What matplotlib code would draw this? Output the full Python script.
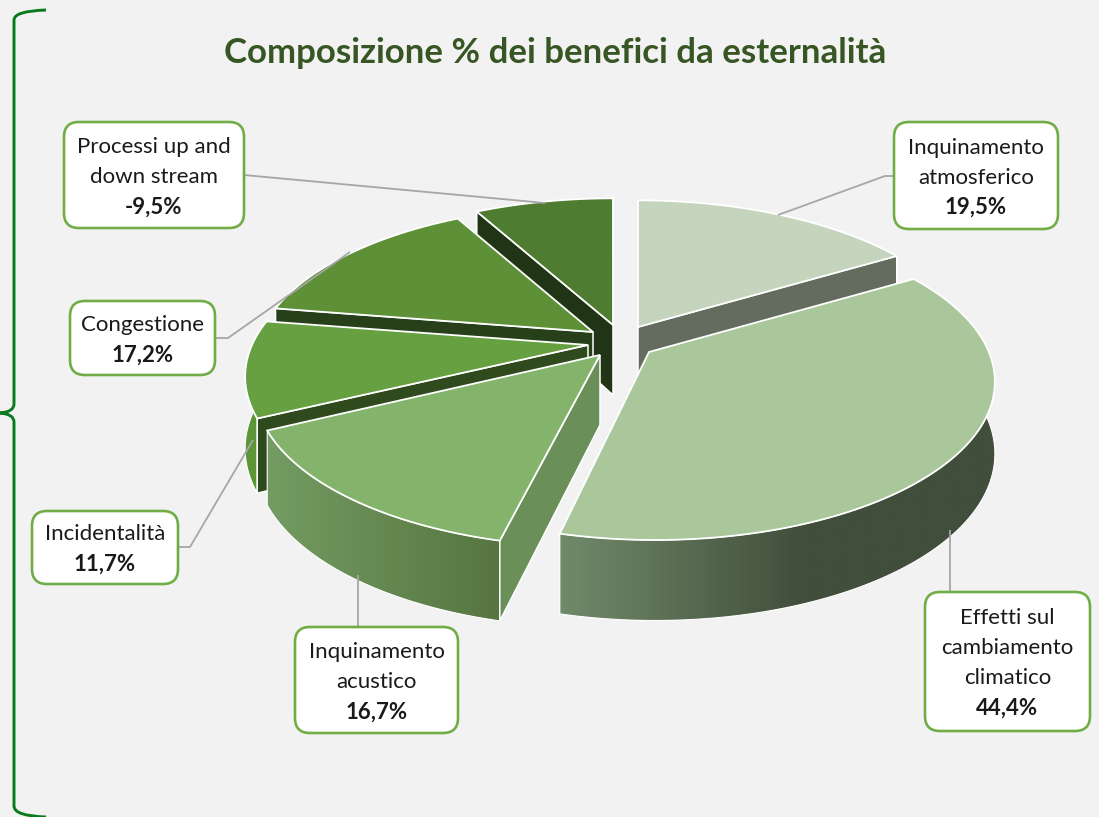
import numpy as np
import matplotlib
matplotlib.use("Agg")
import matplotlib.pyplot as plt
from matplotlib.colors import LinearSegmentedColormap
from matplotlib.patches import FancyBboxPatch, PathPatch, Polygon
from matplotlib.path import Path

plt.rcParams['font.family'] = ['Lato', 'DejaVu Sans']

title = "Composizione % dei benefici da esternalità"
labels = [
    ["Inquinamento", "atmosferico"],
    ["Effetti sul", "cambiamento", "climatico"],
    ["Inquinamento", "acustico"],
    ["Incidentalità"],
    ["Congestione"],
    ["Processi up and", "down stream"],
]
values = [19.5, 44.4, 16.7, 11.7, 17.2, -9.5]
value_labels = ["19,5%", "44,4%", "16,7%", "11,7%", "17,2%", "-9,5%"]

# look of the slices
top_colors = ["#c5d5bd", "#a9c79b", "#84b46b", "#66a040", "#5e9038", "#4e7c31"]
cut_colors = ["#636c5e", "#4a5644", "#6a8f58", "#2f4a1c", "#27401a", "#213416"]
side_left = ["#636c5e", "#708a69", "#739b62", "#5c9638", "#4e7c31", "#3f6527"]
side_right = ["#636c5e", "#424e3c", "#56743f", "#5c9638", "#4e7c31", "#3f6527"]
side_span = [(640, 900), (562, 800), (272, 505), (245, 270), (270, 600), (470, 615)]

# each slice is pulled out of the pie, this is where its tip ends up (pixels)
tips = [(638, 327), (649, 352), (600, 355), (588, 345), (593, 332), (613, 325)]
# the outer arc does not sit exactly around the tip in the picture
arc_centers = [(638, 327), (655, 350), (595, 357), (585, 345), (594, 332), (613, 325)]
draw_order = [5, 0, 4, 3, 2, 1]

# label boxes: left, top, right, bottom in pixels
boxes = [(894, 122, 1058, 229), (925, 592, 1090, 731), (295, 627, 458, 733),
         (32, 511, 178, 584), (70, 301, 215, 375), (64, 122, 244, 228)]
leaders = [
    [(778, 215), (885, 176), (894, 176)],
    [(950, 530), (950, 592)],
    [(358, 575), (358, 627)],
    [(178, 547), (190, 547), (253, 440)],
    [(215, 338), (228, 338), (350, 252)],
    [(244, 175), (545, 203)],
]

RX, RY, PERSP, HEIGHT = 333, 152, 0.2, 70


def project(center, theta):
    # theta is clockwise from the back of the pie, in radians
    u, v = np.sin(theta), -np.cos(theta)
    s = 1 / (1 - PERSP * v)
    return center[0] + RX * u * s, center[1] + RY * v * s, HEIGHT * (1 + 0.15 * v)


fig = plt.figure(figsize=(10.99, 8.17), dpi=100, facecolor="#f2f2f2")
ax = fig.add_axes([0, 0, 1, 1])
ax.axis("off")

shares = np.abs(values) / np.abs(values).sum() * 2 * np.pi
edges = np.concatenate([[0], np.cumsum(shares)])

z = 2
for i in draw_order:
    tip = tips[i]
    th = np.linspace(edges[i], edges[i + 1], 160)
    px, py, ph = project(arc_centers[i], th)

    # rim, a left to right gradient clipped to the rim outline
    outline = list(zip(px, py)) + list(zip(px[::-1], (py + ph)[::-1]))
    x0, x1 = side_span[i]
    xs = np.linspace(px.min(), px.max(), 300)
    grad = np.clip((xs - x0) / (x1 - x0), 0, 1)[None, :]
    cmap = LinearSegmentedColormap.from_list("rim", [side_left[i], side_right[i]])
    im = ax.imshow(grad, cmap=cmap, vmin=0, vmax=1, aspect="auto", interpolation="bilinear",
                   extent=(px.min(), px.max(), (py + ph).max(), py.min()), zorder=z)
    rim = Polygon(outline, closed=True, fc="none", ec="white", lw=0.8, zorder=z)
    ax.add_patch(rim)
    im.set_clip_path(rim)
    z += 1

    # only the cut face that looks at the viewer
    visible = []
    if edges[i] > np.pi:
        visible.append(0)
    if edges[i + 1] < np.pi:
        visible.append(-1)
    for j in visible:
        pts = [tip, (px[j], py[j]), (px[j], py[j] + ph[j]), (tip[0], tip[1] + HEIGHT)]
        ax.add_patch(Polygon(pts, closed=True, fc=cut_colors[i], ec="white", lw=1.1, zorder=z))
    z += 1

    # top of the slice
    pts = [tip] + list(zip(px, py))
    ax.add_patch(Polygon(pts, closed=True, fc=top_colors[i], ec="white", lw=1.3, joinstyle="miter", zorder=z))
    z += 1

ax.set_xlim(0, 1099)
ax.set_ylim(817, 0)

# leader lines
for line in leaders:
    xs, ys = zip(*line)
    ax.plot(xs, ys, color="#a6a6a6", lw=1.3, zorder=50, solid_capstyle="butt")

# label boxes
for name, val, (l, t, r, b) in zip(labels, value_labels, boxes):
    ax.add_patch(FancyBboxPatch((l + 15, t + 15), r - l - 30, b - t - 30,
                                boxstyle="round,pad=15,rounding_size=15",
                                fc="white", ec="#70ad47", lw=1.9, zorder=60))
    n = len(name) + 1
    y0 = (t + b) / 2 - (n - 1) * 15 + 2
    for k, line in enumerate(name):
        ax.text((l + r) / 2, y0 + k * 30, line, ha="center", va="center",
                fontsize=16, color="#1a1a1a", zorder=61)
    ax.text((l + r) / 2, y0 + (n - 1) * 30, val, ha="center", va="center",
            fontsize=16, fontweight="bold", color="#1a1a1a", zorder=61)

ax.text(555, 53, title, ha="center", va="center", fontsize=25.1,
        fontweight="bold", color="#375623", zorder=61)

# curly bracket on the left edge
M, L, C = Path.MOVETO, Path.LINETO, Path.CURVE3
brace = Path(
    [(46, 10), (14, 11), (14, 20), (14, 404), (14, 412), (0, 413),
     (14, 414), (14, 422), (14, 806), (14, 816), (46, 817)],
    [M, C, C, L, C, C, C, C, L, C, C],
)
ax.add_patch(PathPatch(brace, fc="none", ec="#0a7a1e", lw=2.1, zorder=70, clip_on=False))

fig.savefig("out.png", dpi=100, facecolor=fig.get_facecolor())
